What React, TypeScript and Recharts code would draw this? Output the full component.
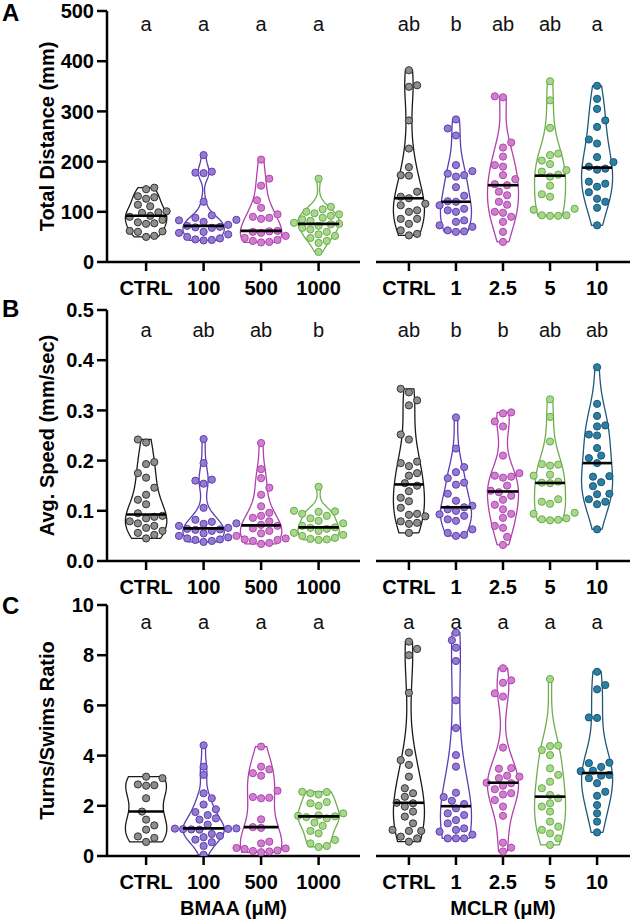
import React from "react";
import { ComposedChart, Scatter, XAxis, YAxis } from "recharts";

// group labels
const BMAA_LABELS = ["CTRL", "100", "500", "1000"];
const MCLR_LABELS = ["CTRL", "1", "2.5", "5", "10"];

// A - total distance (mm)
const distBmaaCtrl = [148, 145, 131, 129, 126, 114, 111, 101, 99, 98, 92, 90, 84, 79, 77, 76, 62, 61, 60, 52, 50];
const distBmaa100 = [213, 180, 178, 177, 120, 93, 88, 84, 83, 80, 74, 72, 70, 69, 68, 60, 58, 55, 50, 47, 45, 44, 43];
const distBmaa500 = [204, 166, 152, 123, 108, 95, 90, 88, 86, 62, 61, 60, 58, 52, 48, 44, 42, 40, 39];
const distBmaa1000 = [166, 110, 105, 100, 97, 95, 92, 88, 85, 82, 78, 76, 75, 72, 68, 65, 60, 55, 52, 48, 42, 38, 20];
const distMclrCtrl = [382, 352, 349, 282, 226, 189, 173, 172, 140, 130, 127, 116, 113, 103, 100, 86, 86, 76, 63, 56, 53];
const distMclr1 = [284, 266, 252, 193, 181, 176, 173, 170, 149, 132, 121, 120, 113, 106, 103, 100, 83, 80, 73, 70, 63, 61, 60];
const distMclr25 = [330, 328, 238, 228, 210, 193, 190, 173, 165, 155, 153, 140, 133, 120, 114, 100, 98, 90, 80, 60, 40];
const distMclr5 = [360, 322, 267, 216, 213, 202, 195, 183, 180, 174, 170, 152, 135, 130, 106, 104, 93, 93, 92, 92];
const distMclr10 = [351, 325, 305, 282, 269, 244, 236, 209, 199, 190, 186, 184, 160, 156, 150, 139, 126, 120, 108, 73];
const distBmaaLetters = ["a", "a", "a", "a"];
const distMclrLetters = ["ab", "b", "ab", "ab", "a"];

// B - average speed (mm/sec)
const speedBmaaCtrl = [0.242, 0.236, 0.197, 0.193, 0.175, 0.166, 0.146, 0.132, 0.122, 0.113, 0.095, 0.09, 0.088, 0.085, 0.079, 0.075, 0.07, 0.066, 0.06, 0.056, 0.052, 0.045];
const speedBmaa100 = [0.243, 0.195, 0.162, 0.16, 0.154, 0.106, 0.082, 0.078, 0.075, 0.074, 0.07, 0.066, 0.064, 0.063, 0.062, 0.06, 0.055, 0.05, 0.047, 0.045, 0.043, 0.042, 0.04, 0.038];
const speedBmaa500 = [0.235, 0.183, 0.165, 0.146, 0.132, 0.109, 0.096, 0.09, 0.086, 0.079, 0.072, 0.07, 0.065, 0.06, 0.055, 0.05, 0.045, 0.043, 0.042, 0.04, 0.036, 0.034];
const speedBmaa1000 = [0.148, 0.1, 0.099, 0.098, 0.094, 0.09, 0.085, 0.08, 0.075, 0.07, 0.067, 0.066, 0.064, 0.06, 0.056, 0.052, 0.05, 0.046, 0.044, 0.043, 0.042];
const speedMclrCtrl = [0.343, 0.336, 0.32, 0.31, 0.252, 0.242, 0.198, 0.195, 0.189, 0.175, 0.17, 0.155, 0.15, 0.139, 0.126, 0.119, 0.106, 0.094, 0.092, 0.089, 0.079, 0.076, 0.074, 0.056];
const speedMclr1 = [0.286, 0.224, 0.187, 0.177, 0.165, 0.156, 0.152, 0.134, 0.12, 0.11, 0.107, 0.103, 0.1, 0.093, 0.09, 0.083, 0.08, 0.063, 0.056, 0.052, 0.05];
const speedMclr25 = [0.296, 0.294, 0.278, 0.268, 0.21, 0.175, 0.17, 0.168, 0.166, 0.15, 0.14, 0.137, 0.13, 0.122, 0.112, 0.103, 0.094, 0.086, 0.07, 0.066, 0.048, 0.032];
const speedMclr5 = [0.322, 0.287, 0.238, 0.193, 0.192, 0.19, 0.172, 0.17, 0.158, 0.156, 0.155, 0.123, 0.118, 0.114, 0.096, 0.094, 0.085, 0.083, 0.082, 0.081];
const speedMclr10 = [0.386, 0.313, 0.289, 0.27, 0.268, 0.252, 0.25, 0.225, 0.21, 0.205, 0.195, 0.169, 0.168, 0.157, 0.149, 0.134, 0.133, 0.123, 0.118, 0.113, 0.063];
const speedBmaaLetters = ["a", "ab", "ab", "b"];
const speedMclrLetters = ["ab", "b", "b", "ab", "ab"];

// C - turns/swims ratio
const ratioBmaaCtrl = [3.16, 3.1, 2.85, 2.82, 2.8, 2.3, 1.77, 1.45, 1.22, 1.05, 0.78, 0.72, 0.56];
const ratioBmaa100 = [4.41, 3.56, 3.23, 2.5, 2.3, 2.05, 1.86, 1.75, 1.63, 1.5, 1.45, 1.25, 1.1, 1.09, 1.08, 1.07, 1.06, 1.05, 0.88, 0.8, 0.75, 0.65, 0.55, 0.4, 0.05];
const ratioBmaa500 = [4.36, 3.56, 3.45, 3.3, 3.2, 2.6, 2.35, 2.32, 2.3, 1.46, 1.15, 1.12, 0.57, 0.5, 0.32, 0.3, 0.28, 0.22, 0.2, 0.18, 0.15];
const ratioBmaa1000 = [2.56, 2.55, 2.5, 2.45, 2.15, 2.1, 2.0, 1.7, 1.62, 1.6, 1.58, 1.55, 1.5, 1.33, 1.2, 1.0, 0.9, 0.64, 0.5, 0.4, 0.36];
const ratioMclrCtrl = [8.54, 8.25, 8.0, 6.5, 4.12, 3.82, 3.63, 3.16, 2.7, 2.5, 2.36, 2.12, 2.1, 1.97, 1.77, 1.57, 1.3, 1.04, 1.0, 1.0, 0.77, 0.7, 0.57];
const ratioMclr1 = [8.9, 8.6, 8.3, 7.77, 6.2, 5.1, 4.02, 3.56, 2.52, 2.35, 2.2, 2.07, 1.9, 1.7, 1.63, 1.43, 1.3, 1.1, 1.04, 0.97, 0.85, 0.7, 0.7, 0.7];
const ratioMclr25 = [7.48, 7.0, 6.9, 6.48, 6.35, 4.32, 3.5, 3.48, 3.2, 3.16, 3.1, 2.92, 2.9, 2.8, 2.66, 2.5, 2.45, 2.23, 1.97, 1.6, 0.53, 0.33, 0.18];
const ratioMclr5 = [7.05, 4.4, 4.38, 4.22, 4.02, 3.49, 3.23, 2.96, 2.7, 2.43, 2.3, 2.1, 1.97, 1.77, 1.37, 1.17, 1.04, 0.9, 0.7, 0.44];
const ratioMclr10 = [7.34, 6.81, 6.64, 5.52, 5.5, 3.72, 3.7, 3.55, 3.4, 3.38, 3.23, 3.2, 3.1, 2.9, 2.56, 2.4, 2.03, 1.7, 1.37, 0.94];
const ratioBmaaLetters = ["a", "a", "a", "a"];
const ratioMclrLetters = ["a", "a", "a", "a", "a"];

const DIST_TICKS = [0, 100, 200, 300, 400, 500];
const SPEED_TICKS = [0, 0.1, 0.2, 0.3, 0.4, 0.5];
const RATIO_TICKS = [0, 2, 4, 6, 8, 10];

// colours per group: violin outline, dot fill, dot edge
const GREY = { line: "#1a1a1a", fill: "#8e8e8e", edge: "#333333" };
const PURPLE = { line: "#5a3fb0", fill: "#9579d2", edge: "#5c3fb0" };
const MAGENTA = { line: "#b040ae", fill: "#d07fd0", edge: "#ae45ac" };
const GREEN = { line: "#6fae4e", fill: "#a8d88a", edge: "#6aab4c" };
const BLUE = { line: "#1f5878", fill: "#2b7fa2", edge: "#1b5676" };
const BMAA_COLORS = [GREY, PURPLE, MAGENTA, GREEN];
const MCLR_COLORS = [GREY, PURPLE, MAGENTA, GREEN, BLUE];

const PLOT_H = 251;
const TOP = 20; // chart top margin, keeps the top tick label inside the svg
const FONT = '"Liberation Sans", Arial, Helvetica, sans-serif';

function median(vals: number[]) {
  const s = [...vals].sort((a, b) => a - b);
  const m = Math.floor(s.length / 2);
  return s.length % 2 ? s[m] : (s[m - 1] + s[m]) / 2;
}

function bandwidth(vals: number[]) {
  const n = vals.length;
  const mean = vals.reduce((a, b) => a + b, 0) / n;
  const sd = Math.sqrt(vals.reduce((a, b) => a + (b - mean) ** 2, 0) / (n - 1));
  const s = [...vals].sort((a, b) => a - b);
  const iqr = s[Math.floor(n * 0.75)] - s[Math.floor(n * 0.25)];
  const spread = iqr > 0 ? Math.min(sd, iqr / 1.34) : sd;
  return 1.0 * spread * Math.pow(n, -0.2);
}

function density(vals: number[], y: number, h: number) {
  let s = 0;
  for (const v of vals) s += Math.exp(-0.5 * ((y - v) / h) ** 2);
  return s;
}

// half-width of the violin (in x units) at value y
function widthFn(vals: number[], halfW: number) {
  const h = bandwidth(vals);
  const lo = Math.min(...vals);
  const hi = Math.max(...vals);
  let peak = 0;
  for (let k = 0; k <= 80; k++) peak = Math.max(peak, density(vals, lo + ((hi - lo) * k) / 80, h));
  return (y: number) => (halfW * density(vals, y, h)) / peak;
}

function violinOutline(vals: number[], i: number, halfW: number) {
  const w = widthFn(vals, halfW);
  const lo = Math.min(...vals);
  const hi = Math.max(...vals);
  const n = 60;
  const right = [];
  const left = [];
  for (let k = 0; k <= n; k++) {
    const y = lo + ((hi - lo) * k) / n;
    right.push({ x: i + w(y), y });
    left.unshift({ x: i - w(y), y });
  }
  const pts = [...right, ...left];
  pts.push(pts[0]);
  return pts;
}

// simple beeswarm, offsets in x units
function swarm(vals: number[], pxX: number, pxY: number) {
  const d = 8.2;
  const order = vals.map((_, k) => k).sort((a, b) => vals[a] - vals[b]);
  const placed: { x: number; y: number }[] = [];
  const off = new Array(vals.length).fill(0);
  let flip = 1;
  for (const idx of order) {
    const py = vals[idx] * pxY;
    for (let k = 0; k < 40; k++) {
      const step = Math.ceil(k / 2) * (d / 2);
      const cand = k === 0 ? 0 : (k % 2 === 1 ? flip : -flip) * step;
      if (placed.every((p) => Math.hypot(p.x - cand, p.y - py) >= d)) {
        placed.push({ x: cand, y: py });
        off[idx] = cand / pxX;
        if (cand !== 0) flip = -flip;
        break;
      }
    }
  }
  return off;
}

type PanelProps = {
  groups: number[][];
  labels: string[];
  letters: string[];
  colors: { line: string; fill: string; edge: string }[];
  yMax: number;
  yTicks: number[];
  yFmt?: (v: number) => string;
  yLabel?: string;
  xTitle?: string;
  left: boolean;
  width: number;
  height: number;
  xDomain: [number, number];
  halfW: number;
  letterFrac: number;
};

function ViolinPanel(p: PanelProps) {
  const plotW = p.left ? p.width - 5 - 107 : p.width - 6 - 3;
  const pxX = plotW / (p.xDomain[1] - p.xDomain[0]);
  const pxY = PLOT_H / p.yMax;
  const axisH = p.height - TOP - PLOT_H;
  const letterData = p.letters.map((t, i) => ({ x: i, y: p.yMax * p.letterFrac, t }));

  return (
    <ComposedChart
      width={p.width}
      height={p.height}
      margin={p.left ? { top: TOP, right: 5, bottom: 0, left: 0 } : { top: TOP, right: 3, bottom: 0, left: 6 }}
    >
      <XAxis
        type="number"
        dataKey="x"
        domain={p.xDomain}
        allowDataOverflow
        ticks={p.labels.map((_, i) => i)}
        interval={0}
        tickFormatter={(v: number) => p.labels[Math.round(v)] ?? ""}
        height={axisH}
        axisLine={{ stroke: "#000", strokeWidth: 2.5 }}
        tickLine={{ stroke: "#000", strokeWidth: 2.5 }}
        tickSize={9}
        tickMargin={10}
        tick={{ fill: "#000", fontSize: 20, fontWeight: 700 }}
        label={
          p.xTitle
            ? { value: p.xTitle, position: "insideBottom", offset: 5, fill: "#000", fontSize: 20, fontWeight: 700 }
            : undefined
        }
      />
      <YAxis
        type="number"
        dataKey="y"
        domain={[0, p.yMax]}
        allowDataOverflow
        ticks={p.yTicks}
        interval={0}
        hide={!p.left}
        width={107}
        tickFormatter={p.yFmt}
        axisLine={{ stroke: "#000", strokeWidth: 2.5 }}
        tickLine={{ stroke: "#000", strokeWidth: 2.5 }}
        tickSize={10}
        tickMargin={3}
        tick={{ fill: "#000", fontSize: 20, fontWeight: 700 }}
        label={
          p.left
            ? () => {
                const cy = TOP + PLOT_H / 2;
                return (
                  <text
                    x={47}
                    y={cy}
                    transform={`rotate(-90 47 ${cy})`}
                    textAnchor="middle"
                    dominantBaseline="central"
                    fontSize={20}
                    fontWeight={700}
                    fill="#000"
                  >
                    {p.yLabel}
                  </text>
                );
              }
            : undefined
        }
      />
      {p.groups.map((vals, i) => (
        <Scatter
          key={`violin-${i}`}
          data={violinOutline(vals, i, p.halfW)}
          line={{ stroke: p.colors[i].line, strokeWidth: 1.3 }}
          shape={() => <g />}
          isAnimationActive={false}
        />
      ))}
      {p.groups.map((vals, i) => {
        const off = swarm(vals, pxX, pxY);
        const c = p.colors[i];
        return (
          <Scatter
            key={`pts-${i}`}
            data={vals.map((v, k) => ({ x: i + off[k], y: v }))}
            shape={(s: any) => <circle cx={s.cx} cy={s.cy} r={3.6} fill={c.fill} stroke={c.edge} strokeWidth={1} />}
            isAnimationActive={false}
          />
        );
      })}
      {p.groups.map((vals, i) => {
        const m = median(vals);
        const w = widthFn(vals, p.halfW)(m);
        return (
          <Scatter
            key={`med-${i}`}
            data={[
              { x: i - w, y: m },
              { x: i + w, y: m },
            ]}
            line={{ stroke: "#000", strokeWidth: 2.6 }}
            shape={() => <g />}
            isAnimationActive={false}
          />
        );
      })}
      <Scatter
        key="letters"
        data={letterData}
        shape={(s: any) => (
          <text x={s.cx} y={s.cy} textAnchor="middle" dominantBaseline="central" fontSize={20} fill="#111">
            {s.payload?.t}
          </text>
        )}
        isAnimationActive={false}
      />
    </ComposedChart>
  );
}

const rows = [
  {
    letter: "A",
    plotTop: 11,
    axisH: 40,
    yMax: 500,
    yTicks: DIST_TICKS,
    yLabel: "Total Distance  (mm)",
    yFmt: (v: number) => String(v),
    bmaa: [distBmaaCtrl, distBmaa100, distBmaa500, distBmaa1000],
    mclr: [distMclrCtrl, distMclr1, distMclr25, distMclr5, distMclr10],
    bmaaLetters: distBmaaLetters,
    mclrLetters: distMclrLetters,
    letterFrac: 0.95,
  },
  {
    letter: "B",
    plotTop: 310,
    axisH: 40,
    yMax: 0.5,
    yTicks: SPEED_TICKS,
    yLabel: "Avg. Speed (mm/sec)",
    yFmt: (v: number) => v.toFixed(1),
    bmaa: [speedBmaaCtrl, speedBmaa100, speedBmaa500, speedBmaa1000],
    mclr: [speedMclrCtrl, speedMclr1, speedMclr25, speedMclr5, speedMclr10],
    bmaaLetters: speedBmaaLetters,
    mclrLetters: speedMclrLetters,
    letterFrac: 0.92,
  },
  {
    letter: "C",
    plotTop: 605,
    axisH: 64,
    yMax: 10,
    yTicks: RATIO_TICKS,
    yLabel: "Turns/Swims Ratio",
    yFmt: (v: number) => String(v),
    bmaa: [ratioBmaaCtrl, ratioBmaa100, ratioBmaa500, ratioBmaa1000],
    mclr: [ratioMclrCtrl, ratioMclr1, ratioMclr25, ratioMclr5, ratioMclr10],
    bmaaLetters: ratioBmaaLetters,
    mclrLetters: ratioMclrLetters,
    letterFrac: 0.932,
    bmaaTitle: "BMAA (μM)",
    mclrTitle: "MCLR (μM)",
  },
];

const LETTER_TOPS = [1, 297, 594];

export default function App() {
  return (
    <div
      style={{
        position: "absolute",
        left: 0,
        top: 0,
        width: 633,
        height: 920,
        background: "#fff",
        fontFamily: FONT,
        overflow: "hidden",
      }}
    >
      {rows.map((r, ri) => {
        const top = r.plotTop - TOP;
        const height = TOP + PLOT_H + r.axisH;
        return (
          <React.Fragment key={r.letter}>
            <div style={{ position: "absolute", left: 0, top }}>
              <ViolinPanel
                groups={r.bmaa}
                labels={BMAA_LABELS}
                letters={r.bmaaLetters}
                colors={BMAA_COLORS}
                yMax={r.yMax}
                yTicks={r.yTicks}
                yFmt={r.yFmt}
                yLabel={r.yLabel}
                xTitle={(r as any).bmaaTitle}
                left
                width={365}
                height={height}
                xDomain={[-0.68, 3.72]}
                halfW={0.36}
                letterFrac={r.letterFrac}
              />
            </div>
            <div style={{ position: "absolute", left: 370, top }}>
              <ViolinPanel
                groups={r.mclr}
                labels={MCLR_LABELS}
                letters={r.mclrLetters}
                colors={MCLR_COLORS}
                yMax={r.yMax}
                yTicks={r.yTicks}
                xTitle={(r as any).mclrTitle}
                left={false}
                width={263}
                height={height}
                xDomain={[-0.7, 4.7]}
                halfW={0.33}
                letterFrac={r.letterFrac}
              />
            </div>
            <div
              style={{
                position: "absolute",
                left: 2,
                top: LETTER_TOPS[ri],
                fontSize: 24,
                fontWeight: 700,
                lineHeight: "24px",
                color: "#000",
              }}
            >
              {r.letter}
            </div>
          </React.Fragment>
        );
      })}
    </div>
  );
}
